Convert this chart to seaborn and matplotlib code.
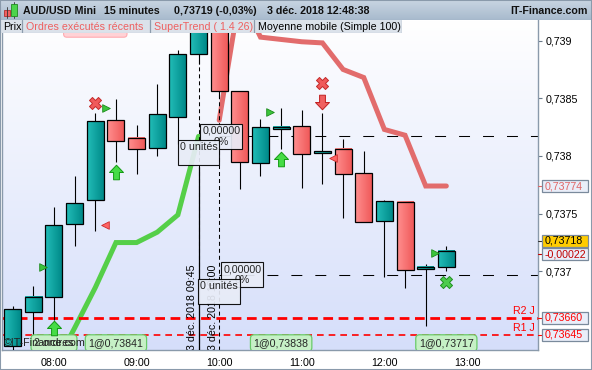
import numpy as np
import pandas as pd
import matplotlib
matplotlib.use("Agg")
import matplotlib.pyplot as plt
import seaborn as sns
from matplotlib.patches import Rectangle
from matplotlib.colors import LinearSegmentedColormap
from matplotlib.path import Path
from matplotlib.transforms import blended_transform_factory

sns.set_style("white")
plt.rcParams['font.family'] = ['Liberation Sans', 'DejaVu Sans']

# ---------------- data ----------------
times = ["07:30", "07:45", "08:00", "08:15", "08:30", "08:45", "09:00", "09:15",
         "09:30", "09:45", "10:00", "10:15", "10:30", "10:45", "11:00", "11:15",
         "11:30", "11:45", "12:00", "12:15", "12:30", "12:45"]
opens = [0.73635, 0.73665, 0.73678, 0.73741, 0.73762, 0.73831, 0.73816, 0.73807,
         0.73834, 0.73888, 0.73915, 0.73856, 0.73794, 0.73823, 0.73826, 0.73803,
         0.73806, 0.73785, 0.73744, 0.73760, 0.73702, 0.73704]
highs = [0.73670, 0.73687, 0.73756, 0.73783, 0.73837, 0.73849, 0.73827, 0.73862,
         0.73892, 0.73925, 0.73925, 0.73856, 0.73832, 0.73842, 0.73840, 0.73837,
         0.73815, 0.73804, 0.73762, 0.73760, 0.73706, 0.73722]
lows = [0.73630, 0.73636, 0.73658, 0.73722, 0.73735, 0.73795, 0.73784, 0.73800,
        0.73810, 0.73880, 0.73850, 0.73771, 0.73783, 0.73806, 0.73772, 0.73776,
        0.73746, 0.73743, 0.73695, 0.73686, 0.73653, 0.73700]
closes = [0.73667, 0.73678, 0.73740, 0.73759, 0.73830, 0.73813, 0.73806, 0.73836,
          0.73888, 0.73915, 0.73856, 0.73795, 0.73825, 0.73825, 0.73802, 0.73804,
          0.73784, 0.73743, 0.73761, 0.73701, 0.73704, 0.73718]

st_up_times = ["08:00", "08:15", "08:30", "08:45", "09:00", "09:15", "09:30", "09:45"]
st_up_vals = [0.73617, 0.73651, 0.73686, 0.73725, 0.73725, 0.73734, 0.73749, 0.73817]
st_dn_times = ["10:00", "10:15", "10:30", "10:45", "11:00", "11:15", "11:30", "11:45",
               "12:00", "12:15", "12:30", "12:45"]
st_dn_vals = [0.73831, 0.73940, 0.73903, 0.73901, 0.73899, 0.73898, 0.73875, 0.73868,
              0.73823, 0.73818, 0.73774, 0.73774]

# signal markers
red_x_times = ["08:30", "11:15"]
red_x_vals = [0.73846, 0.73863]
green_x_times = ["12:45"]
green_x_vals = [0.73691]
green_tri_times = ["07:52", "08:38", "10:37", "12:37"]
green_tri_vals = [0.73704, 0.73842, 0.73838, 0.73716]
red_tri_times = ["08:37", "11:23"]
red_tri_vals = [0.73740, 0.73798]
up_arrow_times = ["08:00", "08:45", "10:45"]
up_arrow_vals = [0.73651, 0.73786, 0.73797]
down_arrow_times = ["11:15"]
down_arrow_vals = [0.73847]

# order annotations
order_level_hi = 0.73817
order_level_lo = 0.73697
order_line_start = "10:00"
order_vtimes = ["09:45", "10:00"]
order_vlabels = ["3 déc. 2018 09:45", "3 déc. 2018 10:00"]
exec_times = ["08:00", "08:45", "10:45", "12:45"]
exec_labels = ["2 ordres", "1@0,73841", "1@0,73838", "1@0,73717"]
sell_label_time = "08:30"

r_levels = [0.73660, 0.73645]
r_names = ["R2 J", "R1 J"]

yticks = [0.737, 0.7375, 0.738, 0.7385, 0.739]
ytick_labels = ["0,737", "0,7375", "0,738", "0,7385", "0,739"]
xticks = [8, 9, 10, 11, 12, 13]
xtick_labels = ["08:00", "09:00", "10:00", "11:00", "12:00", "13:00"]

tag_vals = [0.73774, 0.73718, 0.73718, 0.73660, 0.73645]
tag_texts = ["0,73774", "0,73718", "-0,00022", "0,73660", "0,73645"]
tag_fg = ["#e06666", "black", "#c00000", "#ff0000", "#ff0000"]
tag_bg = ["#e9eef9", "#ffcc00", "#e9eef9", "#e9eef9", "#e9eef9"]
tag_shift_px = [0, 10, -3.5, 0, 0]

title_parts = ["AUD/USD Mini", "15 minutes", "0,73719 (-0,03%)", "3 déc. 2018 12:48:38"]
legend_tabs = ["Prix", "Ordres exécutés récents", "SuperTrend ( 1.4 26)", "Moyenne mobile (Simple 100)"]


def hrs(s):
    hh, mm = s.split(":")
    return int(hh) + int(mm) / 60.0


# ---------------- layout ----------------
W, H = 592, 370
fig = plt.figure(figsize=(W / 100, H / 100), dpi=100)
fig.patch.set_facecolor("white")


def fa(x0, y0, x1, y1):
    return [x0 / W, 1 - y1 / H, (x1 - x0) / W, (y1 - y0) / H]


ax = fig.add_axes(fa(2, 20, 538, 350))
XMIN, XMAX = 7.3705, 13.8596
YMIN, YMAX = 0.7363189, 0.7391785
vpp = (YMAX - YMIN) / 330.0   # value per pixel
hpp = (XMAX - XMIN) / 536.0   # hours per pixel
FS = 7.7

# background gradient
bg = LinearSegmentedColormap.from_list("bg", ["#ffffff", "#d5defa"])
ax.imshow(np.linspace(0, 1, 256).reshape(-1, 1), extent=[0, 1, 0, 1], transform=ax.transAxes,
          cmap=bg, aspect="auto", zorder=0, interpolation="bilinear")

# candles
teal_cm = LinearSegmentedColormap.from_list("teal", ["#22bdb8", "#008a89"])
red_cm = LinearSegmentedColormap.from_list("red", ["#ff8f8f", "#f05a5a"])
tx = np.array([hrs(t) for t in times])
cw = 17 * hpp
ax.vlines(tx, lows, highs, color="black", lw=0.8, zorder=3)
for x, o, hi, lo, c in zip(tx, opens, highs, lows, closes):
    b0, b1 = min(o, c), max(o, c)
    if b1 - b0 < 2 * vpp:
        mid = (b0 + b1) / 2
        b0, b1 = mid - vpp, mid + vpp
    cm = teal_cm if c >= o else red_cm
    ax.imshow(np.linspace(0, 1, 32).reshape(1, -1), extent=[x - cw / 2, x + cw / 2, b0, b1],
              cmap=cm, aspect="auto", zorder=4, interpolation="bilinear")
    ax.add_patch(Rectangle((x - cw / 2, b0), cw, b1 - b0, fill=False, ec="black", lw=0.9, zorder=5))

# SuperTrend lines
df_up = pd.DataFrame({"t": [hrs(t) for t in st_up_times], "v": st_up_vals})
df_dn = pd.DataFrame({"t": [hrs(t) for t in st_dn_times], "v": st_dn_vals})
sns.lineplot(data=df_up, x="t", y="v", ax=ax, color="#55cf48", linewidth=3.6, sort=False,
             zorder=2, solid_joinstyle="miter")
sns.lineplot(data=df_dn, x="t", y="v", ax=ax, color="#e26c6c", linewidth=3.6, sort=False,
             zorder=2, solid_joinstyle="miter")

# order lines
x_start = hrs(order_line_start)
for lvl in [order_level_hi, order_level_lo]:
    ax.plot([x_start, XMAX], [lvl, lvl], color="black", lw=0.75, ls=(0, (10.5, 12.5)), zorder=2.5)
for t in order_vtimes:
    ax.axvline(hrs(t), color="black", lw=0.75, ls=(0, (3.8, 2.9)), zorder=2.5)
ax.plot([hrs(order_vtimes[0])] * 2, [YMIN, order_level_hi - 31 * vpp], color="black", lw=0.9, zorder=2.6)

bt = blended_transform_factory(ax.transData, ax.transAxes)
for t, lab in zip(order_vtimes, order_vlabels):
    ax.text(hrs(t) - 1.2 * hpp, 0.0, lab, transform=bt, rotation=90, ha="right", va="bottom",
            fontsize=FS, color="black", zorder=6, clip_on=True)

# R levels
for lvl, name, lw, dash in zip(r_levels, r_names, [2.0, 1.2], [(3.5, 2.0), (4.0, 3.0)]):
    ax.axhline(lvl, color="#ff0000", lw=lw, ls=(0, dash), zorder=2.5)
    ax.annotate(name, xy=(1, lvl), xycoords=("axes fraction", "data"), xytext=(-3, 1.5),
                textcoords="offset pixels", ha="right", va="bottom", fontsize=FS, color="#ff0000", zorder=6)

# order boxes
box_kw = dict(boxstyle="square,pad=0.18", fc="#e8ecf7", ec="black", lw=0.8, alpha=0.92)
ax.annotate("0,00000\n0%", xy=(x_start, order_level_hi), xytext=(2, 0), textcoords="offset pixels",
            ha="center", va="center", multialignment="center", fontsize=FS, linespacing=1.15,
            bbox=box_kw, zorder=7)
ax.annotate("0 unités\n ", xy=(hrs(order_vtimes[0]), order_level_hi), xytext=(0, -16.5),
            textcoords="offset pixels", ha="center", va="center", fontsize=FS, linespacing=1.15,
            bbox=box_kw, zorder=7.5)
ax.annotate("0,00000\n0%", xy=(x_start, order_level_lo), xytext=(23, 0), textcoords="offset pixels",
            ha="center", va="center", multialignment="center", fontsize=FS, linespacing=1.15,
            bbox=box_kw, zorder=7)
ax.annotate("0 unités\n ", xy=(x_start, order_level_lo), xytext=(0, -17), textcoords="offset pixels",
            ha="center", va="center", fontsize=FS, linespacing=1.15, bbox=box_kw, zorder=7.5)

# executed orders labels
for t, lab in zip(exec_times, exec_labels):
    ax.annotate(lab, xy=(hrs(t), 0), xycoords=("data", "axes fraction"), xytext=(0, 7),
                textcoords="offset pixels", ha="center", va="center", fontsize=FS, clip_on=True,
                bbox=dict(boxstyle="round,pad=0.3,rounding_size=0.35", fc="#c6f0c6", ec="#6acb6a", lw=0.9),
                zorder=8)
ax.text(0.004, 7.5 / 330, "©IT-Finance.com", transform=ax.transAxes, ha="left", va="center",
        fontsize=FS, color="#222222", zorder=9)

# markers
up_arrow = Path([(-0.2, -0.5), (0.2, -0.5), (0.2, 0.0), (0.48, 0.0), (0.0, 0.5), (-0.48, 0.0), (-0.2, 0.0), (-0.2, -0.5)],
                [Path.MOVETO] + [Path.LINETO] * 6 + [Path.CLOSEPOLY])
down_arrow = Path([(x, -y) for x, y in up_arrow.vertices], up_arrow.codes)
ax.scatter([hrs(t) for t in red_x_times], red_x_vals, marker="X", s=75, c="#f05a5a", edgecolors="#c42a2a", lw=0.7, zorder=9)
ax.scatter([hrs(t) for t in green_x_times], green_x_vals, marker="X", s=75, c="#4dcc4d", edgecolors="#1f8f1f", lw=0.7, zorder=9)
ax.scatter([hrs(t) for t in green_tri_times], green_tri_vals, marker=">", s=30, c="#3cc43c", edgecolors="#1a8a1a", lw=0.6, zorder=9)
ax.scatter([hrs(t) for t in red_tri_times], red_tri_vals, marker="<", s=30, c="#ff6464", edgecolors="#cc2a2a", lw=0.6, zorder=9)
ax.scatter([hrs(t) for t in up_arrow_times], up_arrow_vals, marker=up_arrow, s=110, c="#46dc46", edgecolors="#119911", lw=0.7, zorder=9)
ax.scatter([hrs(t) for t in down_arrow_times], down_arrow_vals, marker=down_arrow, s=110, c="#f06060", edgecolors="#c02020", lw=0.7, zorder=9)

# hidden sell-order label at top (mostly covered by the legend tabs)
ax.annotate(" " * 19, xy=(hrs(sell_label_time), 1), xycoords=("data", "axes fraction"), xytext=(0, -9),
            textcoords="offset pixels", ha="center", va="center", fontsize=FS,
            bbox=dict(boxstyle="round,pad=0.3", fc="#ffd2d6", ec="#ffaab0", lw=0.8),
            zorder=8)

# axes formatting
ax.set_xlim(XMIN, XMAX)
ax.set_ylim(YMIN, YMAX)
ax.set_xlabel("")
ax.set_ylabel("")
ax.set_xticks(xticks)
ax.set_xticklabels(xtick_labels)
ax.yaxis.tick_right()
ax.set_yticks(yticks)
ax.set_yticklabels(ytick_labels)
ax.tick_params(axis="both", which="both", length=3, width=0.8, color="#6a7a8a", labelsize=FS,
               labelcolor="black", direction="out")
ax.tick_params(axis="x", pad=3)
ax.tick_params(axis="y", pad=2.5)
for s in ["left", "right", "bottom"]:
    ax.spines[s].set_color("#8a9aab")
    ax.spines[s].set_linewidth(1.0)
ax.spines["top"].set_visible(False)

# right tag overlay
rax = fig.add_axes(fa(538, 20, 592, 350))
rax.set_xlim(0, 54)
rax.set_ylim(YMIN, YMAX)
rax.axis("off")
th = 12 * vpp
for v, txt, fg, bgc, sh in zip(tag_vals, tag_texts, tag_fg, tag_bg, tag_shift_px):
    cy = v + sh * vpp
    rax.add_patch(Rectangle((4, cy - th / 2), 46, th, fc=bgc, ec="#7a8a9c", lw=0.9, zorder=5))
    rax.text(7, cy, txt, ha="left", va="center", fontsize=FS, color=fg, zorder=6)
    rax.plot([0, 4], [cy, cy], color=fg if fg != "black" else "#333333", lw=0.8)

# header
hax = fig.add_axes(fa(0, 0, 592, 20))
hax.set_xlim(0, 592)
hax.set_ylim(20, 0)
hax.axis("off")
hcm = LinearSegmentedColormap.from_list("hdr", ["#c8d5e2", "#a8bacd"])
hax.imshow(np.linspace(0, 1, 32).reshape(-1, 1), extent=[0, 592, 20, 0], cmap=hcm, aspect="auto")
hax.add_patch(Rectangle((4, 9.5), 5.5, 6.5, fc="#f06060", ec="#b03030", lw=0.6))
hax.plot([6.75, 6.75], [7, 18], color="#333333", lw=0.6, zorder=1)
hax.add_patch(Rectangle((11, 4), 5.5, 12, fc="#4cd44c", ec="#208a20", lw=0.6, zorder=2))
hax.plot([13.75, 13.75], [1.5, 18], color="#333333", lw=0.6, zorder=1)
for xp, txt in zip([23, 104, 174, 267], title_parts):
    hax.text(xp, 10.5, txt, ha="left", va="center", fontsize=FS, fontweight="bold", color="#111111")
hax.text(588, 10.5, "IT-Finance.com", ha="right", va="center", fontsize=FS, fontweight="bold", color="#111111")
hax.plot([0, 592], [19.7, 19.7], color="#8a9aab", lw=0.8)

# legend tabs row
lax = fig.add_axes(fa(0, 20, 402, 33))
lax.set_xlim(0, 402)
lax.set_ylim(13, 0)
lax.axis("off")
lax.add_patch(Rectangle((0, 0), 402, 13, fc="#dbe2ea", ec="none"))
tab_edges = [0, 22, 150, 254, 402]
tab_colors = ["black", "#ee6060", "#ee6060", "black"]
for i, (lab, col) in enumerate(zip(legend_tabs, tab_colors)):
    lax.text(tab_edges[i] + 3.5, 6.8, lab, ha="left", va="center", fontsize=FS, color=col)
for xe in tab_edges[1:]:
    lax.plot([xe, xe], [0, 13], color="#8d9cac", lw=0.9)
lax.plot([0, 402], [12.6, 12.6], color="#9aa8b6", lw=0.8)

fig.add_artist(Rectangle((0, 0), 1, 1, transform=fig.transFigure, fill=False, ec="#8a9aab", lw=1.5))

fig.savefig("out.png", dpi=100, facecolor="white")
